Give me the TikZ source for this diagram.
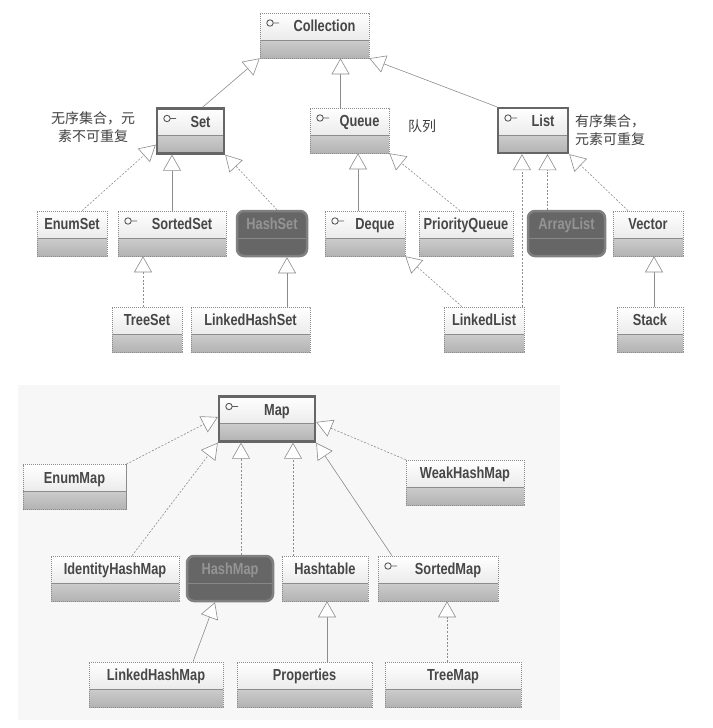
\documentclass[tikz,border=0pt]{standalone}
\usepackage{fontspec}
\setmainfont{Liberation Sans}
\newfontfamily\clsfont[FakeStretch=0.8]{Liberation Sans}
\newfontfamily\cjk{Noto Sans CJK SC}
\usetikzlibrary{arrows.meta}

\newcommand{\compartments}{%
  \fill[top color=white,bottom color=black!13] (path picture bounding box.north west) rectangle ([yshift=18pt]path picture bounding box.south east);
  \fill[top color=black!20,bottom color=black!30] ([yshift=18pt]path picture bounding box.south west) rectangle (path picture bounding box.south east);
  \draw[solid,black!45,line width=0.8pt] ([yshift=18pt]path picture bounding box.south west) -- ([yshift=18pt]path picture bounding box.south east);}
\newcommand{\lollipop}{%
  \draw[solid,black!65,line width=0.9pt] ([xshift=10pt,yshift=-10pt]path picture bounding box.north west) circle (3.2pt) ++(3.2pt,0) -- ++(6pt,0);}

\tikzset{
  cls/.style={rectangle, minimum height=45pt, inner sep=0pt, text height=11pt, text depth=18.6pt,
    text=black!72, draw=black!45, dash pattern=on 1.2pt off 0.8pt, line width=0.6pt,
    font=\clsfont\bfseries\fontsize{16}{18}\selectfont, path picture={\compartments}},
  iface/.style={cls, path picture={\compartments\lollipop}},
  focus/.style={draw=black!60, line width=2.4pt, solid},
  dark/.style={cls, fill=black!60, rounded corners=7pt, draw=black!50, line width=2.5pt, solid, text=black!42,
    path picture={\draw[black!47,line width=0.8pt] ([yshift=18pt]path picture bounding box.south west) -- ([yshift=18pt]path picture bounding box.south east);}},
  gen/.style={draw=black!45, line width=0.6pt, -{Triangle[length=16pt,width=18pt,fill=white]}},
  real/.style={gen, dash pattern=on 2pt off 1.6pt},
  note/.style={font=\cjk\fontsize{14}{18}\selectfont, text=black!75, inner sep=0pt}
}

\begin{document}
\begin{tikzpicture}[x=1pt,y=-1pt]
\useasboundingbox (0,0) rectangle (712,728);
\fill[black!3] (18,385) rectangle (560,720);

% collections
\node[iface, minimum width=109pt] (collection) at (314.5,35.5) {\hspace{20pt}Collection};
\node[iface, focus, minimum width=67pt] (set) at (190.5,131) {\hspace{20pt}Set};
\node[iface, minimum width=79pt] (queue) at (349.5,130.5) {\hspace{20pt}Queue};
\node[iface, focus, minimum width=70pt] (list) at (533,130.5) {\hspace{20pt}List};

\node[cls, minimum width=70pt] (enumset) at (72,233.5) {EnumSet};
\node[iface, minimum width=108pt] (sortedset) at (172,233.5) {\hspace{20pt}SortedSet};
\node[dark, minimum width=70pt] (hashset) at (272,233.5) {HashSet};
\node[iface, minimum width=80pt] (deque) at (365,233.5) {\hspace{20pt}Deque};
\node[cls, minimum width=94pt] (priorityqueue) at (466,233.5) {PriorityQueue};
\node[dark, minimum width=77pt] (arraylist) at (566.5,233.5) {ArrayList};
\node[cls, minimum width=70pt] (vector) at (648,233.5) {Vector};

\node[cls, minimum width=70pt] (treeset) at (147,329.5) {TreeSet};
\node[cls, minimum width=119pt] (linkedhashset) at (250.5,329.5) {LinkedHashSet};
\node[cls, minimum width=80pt] (linkedlist) at (484,329.5) {LinkedList};
\node[cls, minimum width=66pt] (stack) at (650,329.5) {Stack};

\node[note, align=center] (setnote) at (93,127) {无序集合，元\\素不可重复};
\node[note] (queuenote) at (422,126) {队列};
\node[note, align=left, anchor=west] (listnote) at (575,130) {有序集合，\\元素可重复};

\draw[gen] ([xshift=12pt]set.north) -- (collection.south west);
\draw[gen] ([xshift=-9pt]queue.north) -- ([xshift=-9pt]queue.north |- collection.south);
\draw[gen] (list.north west) -- (collection.south east);
\draw[real] ([xshift=10pt]enumset.north) -- ([yshift=10pt]set.south west);
\draw[gen] (sortedset.north) -- (sortedset.north |- set.south);
\draw[real] ([xshift=5pt]hashset.north) -- (set.south east);
\draw[real] ([xshift=-4pt]treeset.north) -- ([xshift=-4pt]treeset.north |- sortedset.south);
\draw[gen] ([xshift=15pt]hashset.south |- linkedhashset.north) -- ([xshift=15pt]hashset.south);
\draw[gen] ([xshift=-7pt]deque.north) -- ([xshift=-7pt]deque.north |- queue.south);
\draw[real] ([xshift=-6pt]priorityqueue.north) -- (queue.south east);
\draw[real] ([xshift=-22pt]linkedlist.north) -- (deque.south east);
\draw[real] ([xshift=38pt]linkedlist.north) -- ([xshift=38pt]linkedlist.north |- list.south);
\draw[real] ([xshift=-19pt]arraylist.north) -- ([xshift=-19pt]arraylist.north |- list.south);
\draw[real] ([xshift=-20pt]vector.north) -- (list.south east);
\draw[gen] ([xshift=4pt]stack.north) -- ([xshift=4pt]stack.north |- vector.south);

% maps
\node[iface, focus, minimum width=96pt] (map) at (267,419) {\hspace{20pt}Map};
\node[cls, minimum width=103pt] (enummap) at (74.5,487) {EnumMap};
\node[cls, minimum width=118pt] (weakhashmap) at (465,482.5) {WeakHashMap};

\node[cls, minimum width=128pt] (identityhashmap) at (115,578.5) {IdentityHashMap};
\node[dark, minimum width=86pt] (hashmap) at (230,578.5) {HashMap};
\node[cls, minimum width=86pt] (hashtable) at (325,578.5) {Hashtable};
\node[iface, minimum width=120pt] (sortedmap) at (438,578.5) {\hspace{20pt}SortedMap};

\node[cls, minimum width=134pt] (linkedhashmap) at (156,684.5) {LinkedHashMap};
\node[cls, minimum width=135pt] (properties) at (304.5,684.5) {Properties};
\node[cls, minimum width=136pt] (treemap) at (453,684.5) {TreeMap};

\draw[real] (enummap.north east) -- ([yshift=2pt]map.west);
\draw[real] (weakhashmap.north west) -- ([yshift=-3pt]map.east);
\draw[real] ([xshift=17pt]identityhashmap.north) -- (map.south west);
\draw[real] ([xshift=11pt]hashmap.north) -- ([xshift=11pt]hashmap.north |- map.south);
\draw[real] ([xshift=-32pt]hashtable.north) -- ([xshift=-32pt]hashtable.north |- map.south);
\draw[gen] ([xshift=-46pt]sortedmap.north) -- (map.south east);
\draw[gen] ([xshift=37pt]linkedhashmap.north) -- ([xshift=-15pt]hashmap.south);
\draw[gen] ([xshift=2pt]hashtable.south |- properties.north) -- ([xshift=2pt]hashtable.south);
\draw[real] ([xshift=9pt]sortedmap.south |- treemap.north) -- ([xshift=9pt]sortedmap.south);
\end{tikzpicture}
\end{document}
